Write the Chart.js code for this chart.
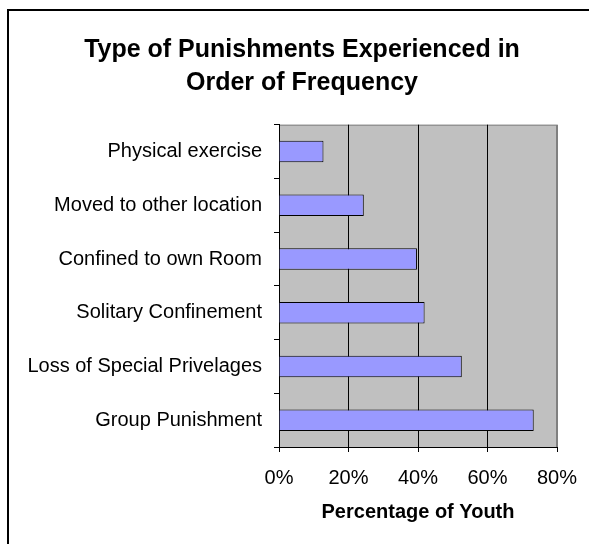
<!DOCTYPE html>
<html>
<head>
<meta charset="utf-8">
<title>Type of Punishments</title>
<script src="https://cdn.jsdelivr.net/npm/chart.js@4.4.1/dist/chart.umd.min.js"></script>
<style>
  html, body { margin: 0; padding: 0; background: #fff; }
  #wrap { width: 589px; height: 544px; }
</style>
</head>
<body>
<div id="wrap"><canvas id="punishChart" width="589" height="544"></canvas></div>
<script>
// data
const categories = [
    'Physical exercise',
    'Moved to other location',
    'Confined to own Room',
    'Solitary Confinement',
    'Loss of Special Privelages',
    'Group Punishment'
];
const percentYouth = [12.8, 24.4, 39.7, 41.9, 52.6, 73.3];
const xTicks = [0, 20, 40, 60, 80];
const chartTitle = ['Type of Punishments Experienced in', 'Order of Frequency'];
const axisTitle = 'Percentage of Youth';

Chart.defaults.font.family = "'Liberation Sans', Arial, sans-serif";
Chart.defaults.color = '#000';

// gray plot area + outer frame, like the old Excel chart
const plotBackground = {
    id: 'plotBackground',
    afterLayout(chart) {
        // title is centred over the whole frame, not only the plot side
        chart.titleBlock.right = chart.width;
    },
    beforeDraw(chart) {
        const c = chart.ctx;
        const a = chart.chartArea;
        c.save();
        c.fillStyle = '#fff';
        c.fillRect(0, 0, chart.width, chart.height);
        c.strokeStyle = '#000';
        c.lineWidth = 2;
        c.strokeRect(8, 10, chart.width + 20, chart.height + 20);
        c.fillStyle = '#C0C0C0';
        c.fillRect(a.left, a.top, a.right - a.left, a.bottom - a.top);
        c.strokeStyle = '#808080';
        c.lineWidth = 1;
        c.strokeRect(a.left + 0.5, a.top + 0.5, a.right - a.left - 1, a.bottom - a.top);
        c.restore();
    }
};

const ctx = document.getElementById('punishChart').getContext('2d');
const punishChart = new Chart(ctx, {
    type: 'bar',
    data: {
        labels: categories,
        datasets: [{
            data: percentYouth,
            backgroundColor: '#9999FF',
            borderColor: '#000',
            borderWidth: 1,
            barPercentage: 0.4,
            categoryPercentage: 1
        }]
    },
    options: {
        indexAxis: 'y',
        responsive: false,
        animation: false,
        layout: {
            padding: { left: 15, right: 32, top: 0, bottom: 0 }
        },
        plugins: {
            legend: { display: false },
            tooltip: { enabled: false },
            title: {
                display: true,
                text: chartTitle,
                color: '#000',
                font: { size: 25, weight: 'bold', lineHeight: 1.32 },
                padding: { top: 33.5, bottom: 25.2 }
            }
        },
        scales: {
            x: {
                min: xTicks[0],
                max: xTicks[xTicks.length - 1],
                afterBuildTicks(scale) {
                    scale.ticks = xTicks.map(v => ({ value: v }));
                },
                afterFit(scale) {
                    scale.height = 97;
                },
                ticks: {
                    padding: 11,
                    font: { size: 20, lineHeight: 1.55 },
                    color: '#000',
                    callback: v => v + '%'
                },
                grid: {
                    color: c => (c.tick && c.tick.value === 80) ? '#808080' : '#000',
                    tickColor: '#000',
                    tickLength: 5,
                    lineWidth: 1
                },
                border: { display: true, color: '#000', width: 1 },
                title: {
                    display: true,
                    text: axisTitle,
                    color: '#000',
                    font: { size: 20, weight: 'bold', lineHeight: 1.2 },
                    padding: { top: 0, bottom: 20 }
                }
            },
            y: {
                afterFit(scale) {
                    scale.width = 264;
                },
                ticks: {
                    padding: 12,
                    font: { size: 20 },
                    color: '#000'
                },
                grid: {
                    offset: true,
                    drawOnChartArea: false,
                    color: '#000',
                    tickColor: '#000',
                    tickLength: 5
                },
                border: { display: true, color: '#000', width: 1 }
            }
        }
    },
    plugins: [plotBackground]
});
</script>
</body>
</html>
